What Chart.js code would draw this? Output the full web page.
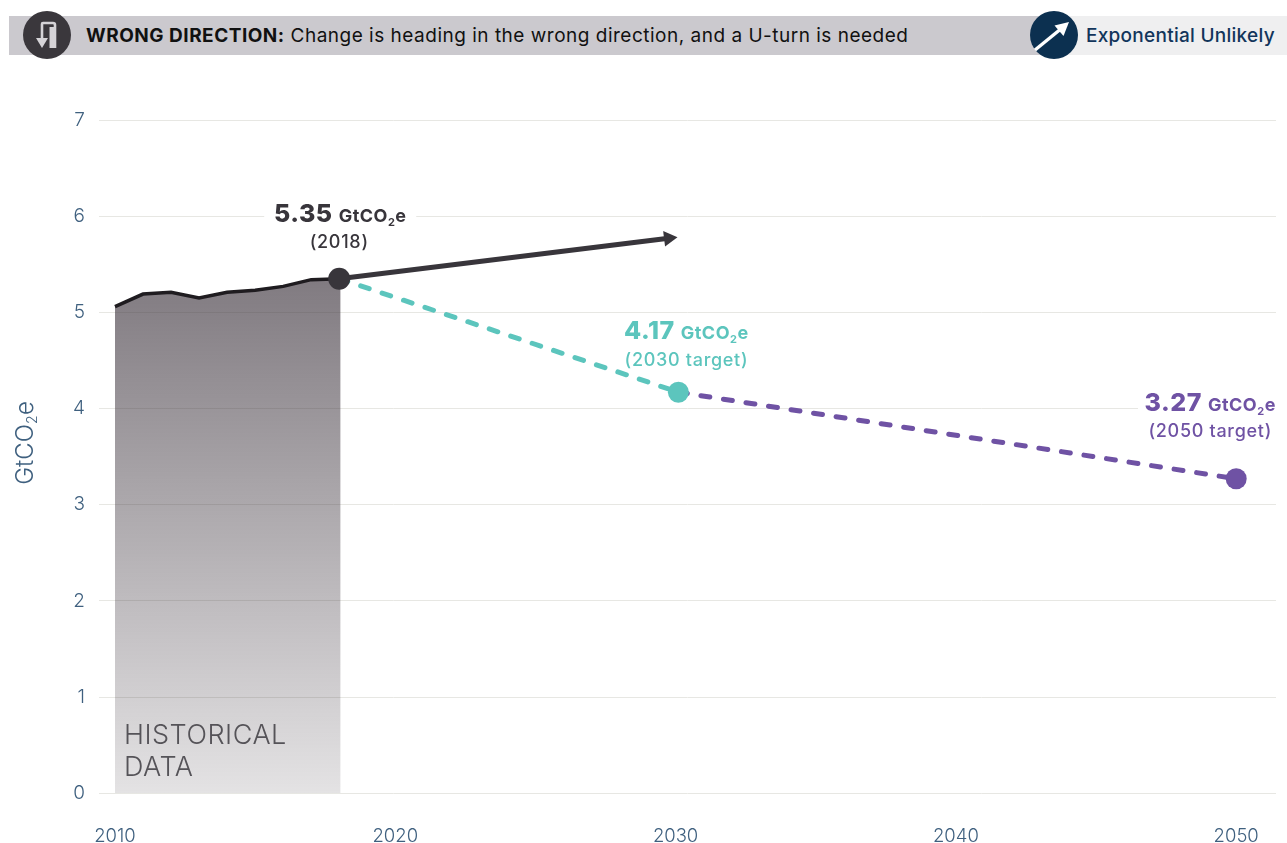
<!DOCTYPE html>
<html>
<head>
<meta charset="utf-8">
<title>Wrong direction</title>
<script src="https://cdn.jsdelivr.net/npm/chart.js@4/dist/chart.umd.js"></script>
<style>
    body { margin: 0; background: #fff; font-family: Inter, sans-serif; overflow: hidden; }
    #page { position: relative; width: 1287px; height: 843px; }
    #diagram { position: absolute; left: 0; top: 0; }
    .bar { position: absolute; top: 16px; height: 39px; }
    #barLeft { left: 9px; width: 1045px; background: #cbc9ce; }
    #barRight { left: 1054px; width: 233px; background: #efeff0; }
    .icon { position: absolute; top: 11px; width: 48px; height: 48px; }
    #headline { position: absolute; left: 86px; top: 16px; line-height: 39px; font-size: 19px; color: #111; letter-spacing: 0.5px; white-space: nowrap; }
    #headline b { font-weight: 700; }
    #rating { position: absolute; left: 1086px; top: 16px; line-height: 39px; font-size: 19px; font-weight: 500; color: #12355b; letter-spacing: 0.27px; white-space: nowrap; }
</style>
</head>
<body>
<div id="page">
    <canvas id="diagram" width="1287" height="843"></canvas>
    <div class="bar" id="barLeft"></div>
    <div class="bar" id="barRight"></div>
    <svg class="icon" style="left:23px" viewBox="0 0 48 48">
        <circle cx="24" cy="24" r="24" fill="#3a373c"/>
        <path d="M19 28 V13 Q19 12 20 12 H30 Q32 12 32 14 V37" fill="none" stroke="#d5d3d7" stroke-width="2.6"/>
        <path d="M26.5 16 H31 V37 H26.5 Z" fill="#d5d3d7"/>
        <path d="M13 27 H25 L19 37 Z" fill="#d5d3d7"/>
    </svg>
    <svg class="icon" style="left:1030px" viewBox="0 0 48 48">
        <circle cx="24" cy="24" r="24" fill="#0c3050"/>
        <path d="M5 39 L32 17" stroke="#fff" stroke-width="3.4"/>
        <path d="M39 11 L24.5 14.5 L33.5 25 Z" fill="#fff"/>
    </svg>
    <div id="headline"><b>WRONG DIRECTION:</b> Change is heading in the wrong direction, and a U-turn is needed</div>
    <div id="rating">Exponential Unlikely</div>
</div>

<script>
const historyYears = [2010, 2011, 2012, 2013, 2014, 2015, 2016, 2017, 2018.05];
const historyValues = [5.06, 5.19, 5.21, 5.15, 5.21, 5.23, 5.27, 5.34, 5.35];

const arrowYears = [2018, 2029.75];
const arrowValues = [5.35, 5.77];

const pathTo2030Years = [2018, 2030.1];
const pathTo2030Values = [5.35, 4.17];

const pathTo2050Years = [2030.1, 2050];
const pathTo2050Values = [4.17, 3.27];

const xTicks = [2010, 2020, 2030, 2040, 2050];
const yTicks = [0, 1, 2, 3, 4, 5, 6, 7];

const DARK = "#38353b";
const TEAL = "#5cc5bd";
const PURPLE = "#6f52a4";
const AXIS_BLUE = "#3f607f";
const FONT = "Inter, sans-serif";

function toPoints(xs, ys) {
    return xs.map((x, i) => ({ x: x, y: ys[i] }));
}

// the big number, then GtCO2e with a small 2
function drawUnitLabel(ctx, cx, cy, value, color) {
    let valueFont = "800 25px " + FONT;
    let unitFont = "700 18px " + FONT;
    let subFont = "700 11px " + FONT;

    ctx.letterSpacing = "0.5px";
    ctx.font = valueFont;
    let valueWidth = ctx.measureText(value).width;
    ctx.font = unitFont;
    let gtWidth = ctx.measureText("GtCO").width;
    let eWidth = ctx.measureText("e").width;
    ctx.font = subFont;
    let subWidth = ctx.measureText("2").width;

    let x = cx - (valueWidth + 6 + gtWidth + subWidth + eWidth) / 2;
    ctx.fillStyle = color;
    ctx.textAlign = "left";
    ctx.textBaseline = "alphabetic";
    ctx.font = valueFont;
    ctx.fillText(value, x, cy + 8);
    x += valueWidth + 6;
    ctx.font = unitFont;
    ctx.fillText("GtCO", x, cy + 8);
    x += gtWidth;
    ctx.font = subFont;
    ctx.fillText("2", x, cy + 12);
    x += subWidth;
    ctx.font = unitFont;
    ctx.fillText("e", x, cy + 8);
    ctx.letterSpacing = "0px";
}

function drawNote(ctx, cx, cy, text, color) {
    ctx.font = "500 18px " + FONT;
    ctx.fillStyle = color;
    ctx.textAlign = "center";
    ctx.textBaseline = "middle";
    ctx.letterSpacing = "0.7px";
    ctx.fillText(text, cx, cy);
    ctx.letterSpacing = "0px";
}

// white boxes behind the labels cut the grid lines
const labelBacks = {
    id: "labelBacks",
    beforeDatasetsDraw(chart) {
        let ctx = chart.ctx;
        let x = chart.scales.x;
        ctx.save();
        ctx.fillStyle = "#fff";
        ctx.fillRect(x.getPixelForValue(2018) - 75, 200, 152, 30);
        ctx.fillRect(1138, 395, 149, 26);
        ctx.restore();
    }
};

const labels = {
    id: "labels",
    afterDatasetsDraw(chart) {
        let ctx = chart.ctx;
        let x = chart.scales.x;
        let y = chart.scales.y;
        ctx.save();

        drawUnitLabel(ctx, x.getPixelForValue(2018) + 1, y.getPixelForValue(5.35) - 65, "5.35", DARK);
        drawNote(ctx, x.getPixelForValue(2018), y.getPixelForValue(5.35) - 36, "(2018)", DARK);

        drawUnitLabel(ctx, x.getPixelForValue(2030.1) + 8, y.getPixelForValue(4.17) - 61, "4.17", TEAL);
        drawNote(ctx, x.getPixelForValue(2030.1) + 8, y.getPixelForValue(4.17) - 32, "(2030 target)", TEAL);

        drawUnitLabel(ctx, x.getPixelForValue(2050) - 26, y.getPixelForValue(3.27) - 76, "3.27", PURPLE);
        drawNote(ctx, x.getPixelForValue(2050) - 26, y.getPixelForValue(3.27) - 47, "(2050 target)", PURPLE);

        // historical tag
        ctx.font = "300 27px " + FONT;
        ctx.fillStyle = "#555358";
        ctx.textAlign = "left";
        ctx.textBaseline = "middle";
        ctx.letterSpacing = "0.5px";
        ctx.fillText("HISTORICAL", x.getPixelForValue(2010) + 9, y.getPixelForValue(0) - 57);
        ctx.fillText("DATA", x.getPixelForValue(2010) + 9, y.getPixelForValue(0) - 25);
        ctx.letterSpacing = "0px";

        // y axis title
        ctx.translate(24, 443);
        ctx.rotate(-Math.PI / 2);
        ctx.fillStyle = AXIS_BLUE;
        ctx.textBaseline = "alphabetic";
        ctx.font = "300 24px " + FONT;
        let gtWidth = ctx.measureText("GtCO").width;
        let eWidth = ctx.measureText("e").width;
        let start = -(gtWidth + 9 + eWidth) / 2;
        ctx.fillText("GtCO", start, 9);
        ctx.fillText("e", start + gtWidth + 9, 9);
        ctx.font = "300 14px " + FONT;
        ctx.fillText("2", start + gtWidth, 13);

        ctx.restore();
    }
};

new Chart(document.getElementById("diagram"), {
    type: "scatter",
    data: {
        datasets: [
            {
                // 2018 marker, on top of everything
                data: toPoints([2018], [5.35]),
                pointRadius: 11,
                pointBackgroundColor: DARK,
                pointBorderWidth: 0
            },
            {
                data: toPoints([2030.1], [4.17]),
                pointRadius: 10.5,
                pointBackgroundColor: TEAL,
                pointBorderWidth: 0
            },
            {
                data: toPoints([2050], [3.27]),
                pointRadius: 10.5,
                pointBackgroundColor: PURPLE,
                pointBorderWidth: 0
            },
            {
                data: toPoints(arrowYears, arrowValues),
                showLine: true,
                borderColor: DARK,
                borderWidth: 5,
                pointRadius: [0, 9],
                pointStyle: "triangle",
                pointRotation: 83,
                pointBackgroundColor: DARK,
                pointBorderWidth: 0
            },
            {
                data: toPoints(pathTo2030Years, pathTo2030Values),
                showLine: true,
                borderColor: TEAL,
                borderWidth: 5,
                borderDash: [9, 13.6],
                borderCapStyle: "round",
                pointRadius: 0
            },
            {
                data: toPoints(pathTo2050Years, pathTo2050Values),
                showLine: true,
                borderColor: PURPLE,
                borderWidth: 5,
                borderDash: [9, 13.8],
                borderCapStyle: "round",
                pointRadius: 0
            },
            {
                data: toPoints(historyYears, historyValues),
                showLine: true,
                fill: "origin",
                borderColor: "#1f1c20",
                borderWidth: 3.5,
                pointRadius: 0,
                backgroundColor: function (context) {
                    let area = context.chart.chartArea;
                    if (!area) {
                        return "rgba(56,48,56,0.62)";
                    }
                    let y = context.chart.scales.y;
                    let gradient = context.chart.ctx.createLinearGradient(0, y.getPixelForValue(5.35), 0, area.bottom);
                    gradient.addColorStop(0, "rgba(63,54,63,0.66)");
                    gradient.addColorStop(1, "rgba(63,54,63,0.14)");
                    return gradient;
                }
            }
        ]
    },
    options: {
        responsive: false,
        animation: false,
        layout: { padding: { top: 120, right: 0, left: 0, bottom: 0 } },
        plugins: {
            legend: { display: false },
            tooltip: { enabled: false }
        },
        scales: {
            x: {
                type: "linear",
                min: 2009.43,
                max: 2051.42,
                grid: { display: false },
                border: { display: false },
                afterBuildTicks: function (scale) {
                    scale.ticks = xTicks.map(v => ({ value: v }));
                },
                afterFit: function (scale) {
                    scale.height = 49.7;
                    scale.paddingLeft = 0;
                    scale.paddingRight = 0;
                },
                ticks: {
                    padding: 24,
                    autoSkip: false,
                    maxRotation: 0,
                    color: AXIS_BLUE,
                    font: { family: FONT, size: 18.5, weight: "300" },
                    callback: v => String(v)
                }
            },
            y: {
                min: 0,
                max: 7,
                afterBuildTicks: function (scale) {
                    scale.ticks = yTicks.map(v => ({ value: v }));
                },
                afterFit: function (scale) {
                    scale.width = 99;
                },
                grid: { color: "#e7e7e3", lineWidth: 1, drawTicks: false },
                border: { display: false },
                ticks: {
                    padding: 14,
                    color: AXIS_BLUE,
                    font: { family: FONT, size: 19, weight: "300" }
                }
            }
        }
    },
    plugins: [labelBacks, labels]
});
</script>
</body>
</html>
